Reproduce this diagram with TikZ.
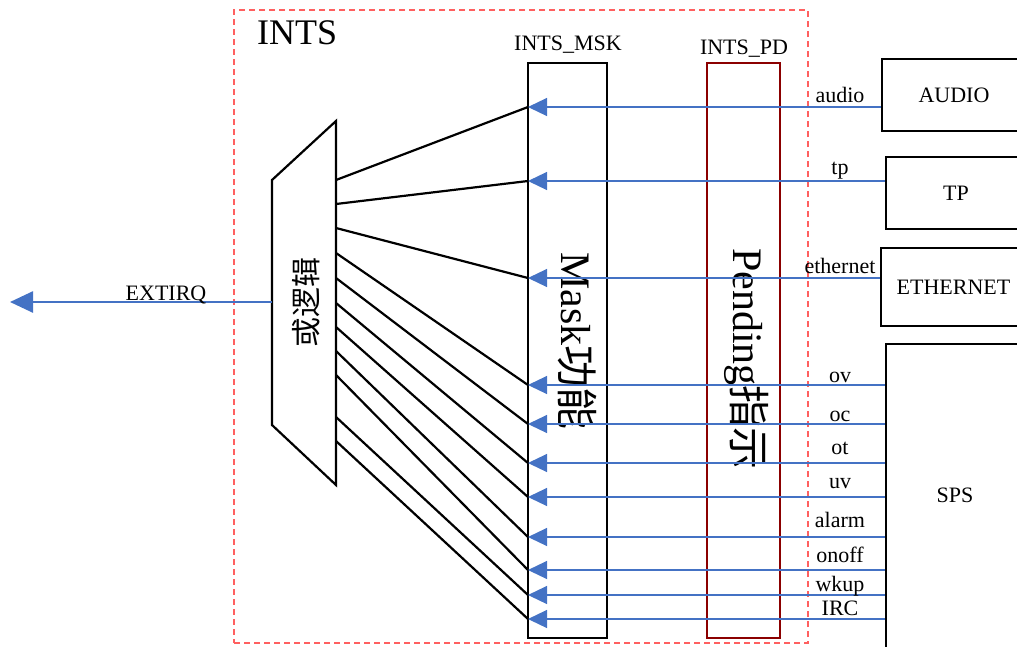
\documentclass[tikz,border=0pt]{standalone}
\usepackage{fontspec}
\setmainfont{Liberation Serif}
\newfontfamily\cjk{Noto Sans CJK SC}
\usepackage{xcolor}
\usetikzlibrary{arrows.meta, positioning, calc}
\definecolor{sigblue}{HTML}{4472C4}
\definecolor{pdred}{HTML}{8B0000}
\definecolor{dashred}{HTML}{FF6060}

\begin{document}
\begin{tikzpicture}[
  x=1pt, y=-1pt,
  blk/.style   = {draw, line width=2.2pt, inner sep=0pt,
                  font=\fontsize{22}{24}\selectfont},
  lbl/.style   = {inner sep=0pt, anchor=base, font=\fontsize{22}{24}\selectfont},
  big/.style   = {inner sep=0pt, font=\fontsize{42}{44}\selectfont},
  frame/.style = {draw=dashred, line width=1.2pt, dash pattern=on 6pt off 4pt},
  wire/.style  = {line width=2.2pt},
  sig/.style   = {draw=sigblue, line width=1.2pt, -{Triangle[length=19pt,width=18pt]}},
  irq/.style   = {draw=sigblue, line width=2.6pt, -{Triangle[length=23pt,width=21pt]}},
]
\useasboundingbox (0,0) rectangle (1017,646);
\clip (0,0) rectangle (1017,646);

% INTS frame
\node[frame, minimum width=574pt, minimum height=633pt] (ints) at (521,326.5) {};
\node[inner sep=0pt, anchor=base west, font=\fontsize{36}{38}\selectfont] (intstitle) at (257,44) {INTS};

% Or logic
\coordinate (or-tl) at (272,180);
\coordinate (or-tr) at (336,121);
\coordinate (or-br) at (336,485);
\coordinate (or-bl) at (272,425);
\coordinate (or-w)  at (272,302);
\draw[wire] (or-tl) -- (or-tr) -- (or-br) -- (or-bl) -- cycle;
\node[inner sep=0pt, rotate=90, font=\cjk\fontsize{30}{32}\selectfont] (orlogic) at (306,302) {或逻辑};

% EXTIRQ out
\coordinate (irq-out) at (10,302);
\draw[irq] (or-w) -- (irq-out);
\node[lbl] (irqlbl) at (166,300) {EXTIRQ};

% Mask / pending blocks
\node[blk, minimum width=79pt, minimum height=575pt] (msk) at (567.5,350.5) {};
\node[blk, draw=pdred, line width=2.6pt, minimum width=73pt, minimum height=575pt] (pd) at (743.5,350.5) {};
\node[lbl] (msktitle) at (568,50) {INTS\_MSK};
\node[lbl] (pdtitle)  at (744,54) {INTS\_PD};
\node[big, rotate=-90] (msktext) at (577,341) {Mask{\cjk 功能}};
\node[big, rotate=-90] (pdtext)  at (747,359) {Pending{\cjk 指示}};

% Sources
\node[blk, minimum width=144pt, minimum height=72pt] (audio) at (954,95) {AUDIO};
\node[blk, minimum width=140pt, minimum height=72pt] (tp)    at (956,193) {TP};
\node[blk, minimum width=145pt, minimum height=78pt] (eth)   at (953.5,287) {ETHERNET};
\node[blk, minimum width=140pt, minimum height=330pt] (sps)  at (956,509) {};
\node[lbl, anchor=center] (spstext) at (955,495) {SPS};

% Mask inputs
\coordinate (m1)  at (528,107);
\coordinate (m2)  at (528,181);
\coordinate (m3)  at (528,278);
\coordinate (m4)  at (528,385);
\coordinate (m5)  at (528,424);
\coordinate (m6)  at (528,463);
\coordinate (m7)  at (528,497);
\coordinate (m8)  at (528,537);
\coordinate (m9)  at (528,570);
\coordinate (m10) at (528,595);
\coordinate (m11) at (528,619);

% Or logic inputs
\coordinate (g1)  at (336,180);
\coordinate (g2)  at (336,204);
\coordinate (g3)  at (336,228);
\coordinate (g4)  at (336,253);
\coordinate (g5)  at (336,278);
\coordinate (g6)  at (336,303);
\coordinate (g7)  at (336,327);
\coordinate (g8)  at (336,351);
\coordinate (g9)  at (336,375);
\coordinate (g10) at (336,417);
\coordinate (g11) at (336,441);

% Wires mask -> or
\draw[wire] (g1)  -- (m1);
\draw[wire] (g2)  -- (m2);
\draw[wire] (g3)  -- (m3);
\draw[wire] (g4)  -- (m4);
\draw[wire] (g5)  -- (m5);
\draw[wire] (g6)  -- (m6);
\draw[wire] (g7)  -- (m7);
\draw[wire] (g8)  -- (m8);
\draw[wire] (g9)  -- (m9);
\draw[wire] (g10) -- (m10);
\draw[wire] (g11) -- (m11);

% Interrupt signals
\draw[sig] (audio.west |- m1) -- (m1);
\draw[sig] (tp.west |- m2)    -- (m2);
\draw[sig] (eth.west |- m3)   -- (m3);
\draw[sig] (sps.west |- m4)   -- (m4);
\draw[sig] (sps.west |- m5)   -- (m5);
\draw[sig] (sps.west |- m6)   -- (m6);
\draw[sig] (sps.west |- m7)   -- (m7);
\draw[sig] (sps.west |- m8)   -- (m8);
\draw[sig] (sps.west |- m9)   -- (m9);
\draw[sig] (sps.west |- m10)  -- (m10);
\draw[sig] (sps.west |- m11)  -- (m11);

% Signal labels
\node[lbl] (l-audio) at (840,102) {audio};
\node[lbl] (l-tp)    at (840,174) {tp};
\node[lbl] (l-eth)   at (840,273) {ethernet};
\node[lbl] (l-ov)    at (840,382) {ov};
\node[lbl] (l-oc)    at (840,421) {oc};
\node[lbl] (l-ot)    at (840,454) {ot};
\node[lbl] (l-uv)    at (840,488) {uv};
\node[lbl] (l-alarm) at (840,527) {alarm};
\node[lbl] (l-onoff) at (840,562) {onoff};
\node[lbl] (l-wkup)  at (840,591) {wkup};
\node[lbl] (l-irc)   at (840,615) {IRC};
\end{tikzpicture}
\end{document}
